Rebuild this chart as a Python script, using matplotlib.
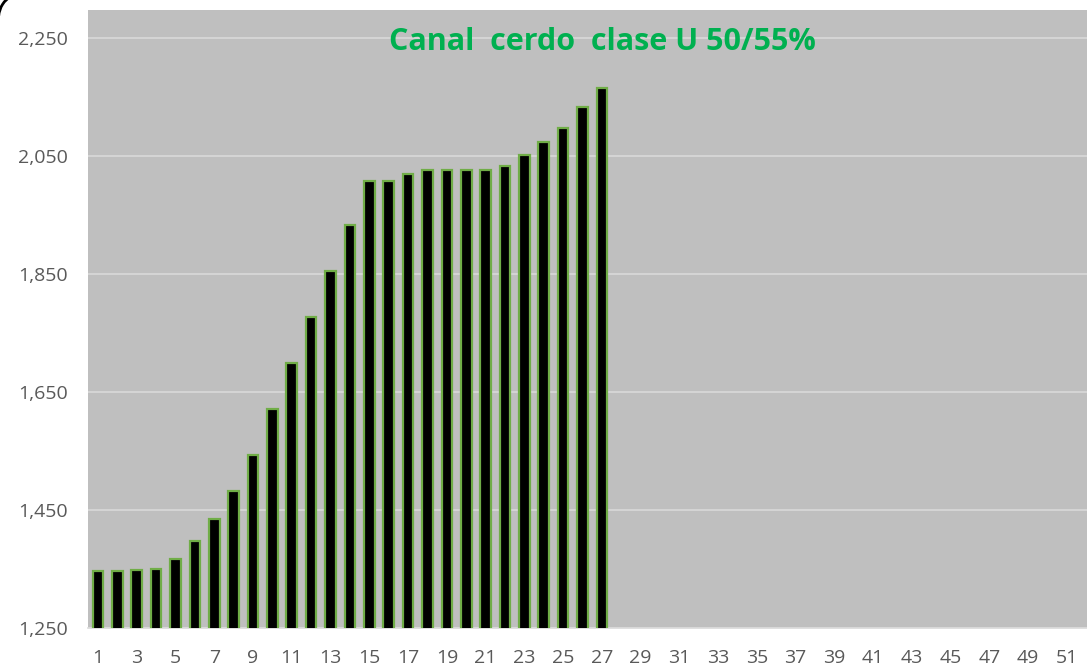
import matplotlib
matplotlib.use("Agg")
import matplotlib.pyplot as plt
from matplotlib.patches import Arc
from matplotlib.ticker import FuncFormatter

W, H = 1087, 669
weeks = list(range(1, 53))
values = [1347, 1347, 1348, 1350, 1367, 1398, 1435, 1482, 1543, 1621,
          1699, 1777, 1855, 1933, 2008, 2008, 2020, 2027, 2027, 2027,
          2027, 2033, 2052, 2074, 2097, 2133, 2166]
title = "Canal  cerdo  clase U 50/55%"
yticks = [1250, 1450, 1650, 1850, 2050, 2250]

plt.rcParams['font.family'] = ['Open Sans', 'DejaVu Sans']

fig = plt.figure(figsize=(W / 100, H / 100), dpi=100)
ax = fig.add_axes([88.3 / W, (H - 628) / H, (W - 88.3) / W, (628 - 10) / H])
ax.set_facecolor('#BFBFBF')

xs = weeks[:len(values)]
ax.bar(xs, values, width=0.55, color='black', edgecolor='#70AD47',
       linewidth=1.6, zorder=3)

ax.set_ylim(1250, 2297.5)
ax.set_xlim(0.5, 0.5 + (W - 88.3) / 19.38)
ax.set_yticks(yticks)
ax.yaxis.set_major_formatter(FuncFormatter(lambda v, p: f"{int(v):,}"))
ax.set_xticks(weeks[::2])
ax.grid(axis='y', color='#D9D9D9', linewidth=1.2, zorder=0)
ax.set_axisbelow(True)
for s in ax.spines.values():
    s.set_visible(False)
ax.spines['bottom'].set_visible(True)
ax.spines['bottom'].set_color('#D9D9D9')
ax.spines['bottom'].set_linewidth(1.2)
ax.tick_params(axis='both', length=0, labelsize=14, colors='#595959')
ax.tick_params(axis='y', pad=14.5)
ax.tick_params(axis='x', pad=15)

ax.text(0.515, (2244 - 1250) / (2297.5 - 1250), title, transform=ax.transAxes,
        ha='center', va='center', fontsize=22, fontweight='bold', color='#00B050')

arc = Arc((24, H - 18), 2 * 25.4, 2 * 25.4, theta1=120, theta2=175,
          transform=None, color='black', linewidth=2)
fig.patches.append(arc)

fig.savefig('out.png', dpi=100, facecolor='white')
